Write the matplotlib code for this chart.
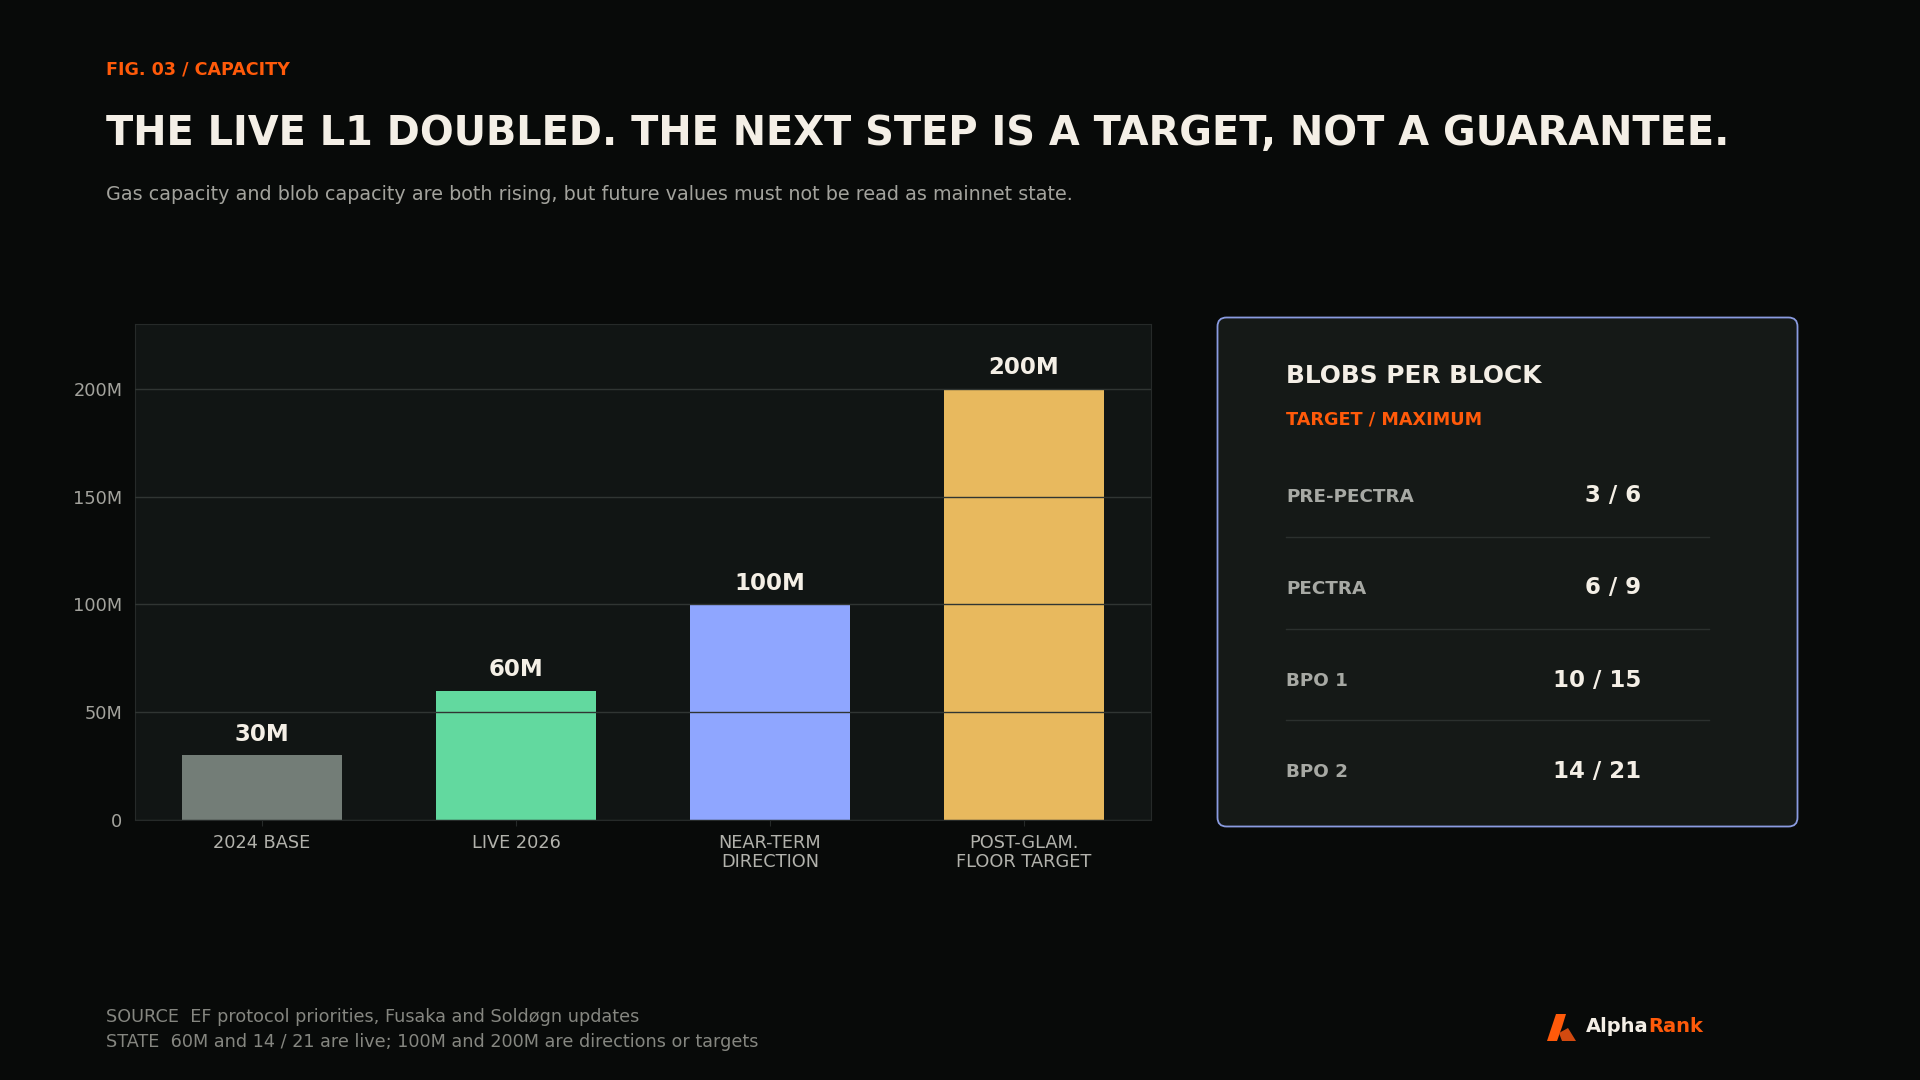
import matplotlib
matplotlib.use("Agg")
import matplotlib.pyplot as plt
from matplotlib.patches import FancyBboxPatch, Polygon
from matplotlib.ticker import FuncFormatter

# ---- data ----
categories = ["2024 BASE", "LIVE 2026", "NEAR-TERM\nDIRECTION", "POST-GLAM.\nFLOOR TARGET"]
gas_limit_m = [30, 60, 100, 200]
bar_colors = ["#737d77", "#62d99f", "#8fa6ff", "#e8b95e"]

blob_stages = ["PRE-PECTRA", "PECTRA", "BPO 1", "BPO 2"]
blob_target = [3, 6, 10, 14]
blob_max = [6, 9, 15, 21]

BG = "#080a09"
AX_BG = "#111514"
PANEL_BG = "#151917"
ORANGE = "#ff5a0a"
CREAM = "#f4efe6"
GRID = "#303533"

W, H = 1920, 1080


def fx(x):
    return x / W


def fy(y):
    return 1 - y / H


fig = plt.figure(figsize=(19.2, 10.8), dpi=100, facecolor=BG)

# header
fig.text(fx(106), fy(69), "FIG. 03 / CAPACITY", color=ORANGE, fontsize=12.6,
         fontweight="bold", va="center", ha="left")
fig.text(fx(106), fy(134), "THE LIVE L1 DOUBLED. THE NEXT STEP IS A TARGET, NOT A GUARANTEE.",
         color=CREAM, fontsize=28.75, fontweight="bold", va="center", ha="left")
fig.text(fx(106), fy(194),
         "Gas capacity and blob capacity are both rising, but future values must not be read as mainnet state.",
         color="#a3a39d", fontsize=13.8, va="center", ha="left")

# bar chart
ax = fig.add_axes([fx(135), fy(820), fx(1151) - fx(135), fy(324) - fy(820)])
ax.set_facecolor(AX_BG)
x = range(len(categories))
bars = ax.bar(x, gas_limit_m, width=0.63, color=bar_colors, zorder=1)
ax.set_xlim(-0.5, 3.5)
ax.set_ylim(0, 230)
ax.set_yticks([0, 50, 100, 150, 200])
ax.yaxis.set_major_formatter(FuncFormatter(lambda v, _: "0" if v == 0 else f"{int(v)}M"))
ax.set_xticks(list(x))
ax.set_xticklabels(categories, linespacing=1.1)
ax.grid(axis="y", color=GRID, lw=1.0, zorder=3)
ax.set_axisbelow(False)
for s in ax.spines.values():
    s.set_color("#262a29")
ax.tick_params(axis="y", length=0, pad=9, labelsize=12.8, labelcolor="#a3a39d")
ax.tick_params(axis="x", length=4, color="#262a29", pad=6, labelsize=12.8, labelcolor="#b2b2ac")
for b, v in zip(bars, gas_limit_m):
    ax.annotate(f"{v}M", (b.get_x() + b.get_width() / 2, v), xytext=(0, 7),
                textcoords="offset points", ha="center", va="bottom",
                color=CREAM, fontsize=16.5, fontweight="bold")

# blobs panel
px0, py0, px1, py1 = 1216, 316, 1799, 828
pax = fig.add_axes([fx(px0), fy(py1), fx(px1) - fx(px0), fy(py0) - fy(py1)])
pax.set_xlim(px0, px1)
pax.set_ylim(py1, py0)
pax.axis("off")
pax.add_patch(FancyBboxPatch((px0 + 1.5, py0 + 1.5), px1 - px0 - 3, py1 - py0 - 3,
                             boxstyle="round,pad=0,rounding_size=9",
                             facecolor=PANEL_BG, edgecolor="#8a9be0", lw=1.3))
pax.text(1286, 376, "BLOBS PER BLOCK", color=CREAM, fontsize=17.9, fontweight="bold",
         va="center", ha="left")
pax.text(1286, 419, "TARGET / MAXIMUM", color=ORANGE, fontsize=12.7, fontweight="bold",
         va="center", ha="left")
row_y = [497, 589, 681, 772]
for i, (name, t, m) in enumerate(zip(blob_stages, blob_target, blob_max)):
    y = row_y[i]
    pax.text(1286, y, name, color="#a7a9a4", fontsize=13.2, fontweight="bold",
             va="center", ha="left")
    pax.text(1641, y - 1, f"{t} / {m}", color=CREAM, fontsize=16.5, fontweight="bold",
             va="center", ha="right")
    if i < len(blob_stages) - 1:
        sep = (row_y[i] + row_y[i + 1]) / 2 - 6.5
        pax.plot([1286, 1709], [sep, sep], color="#2b302e", lw=1)

# footer
fig.text(fx(106), fy(1017), "SOURCE  EF protocol priorities, Fusaka and Soldøgn updates",
         color="#858680", fontsize=12.7, va="center", ha="left")
fig.text(fx(106), fy(1042), "STATE  60M and 14 / 21 are live; 100M and 200M are directions or targets",
         color="#858680", fontsize=12.7, va="center", ha="left")

# logo
lax = fig.add_axes([0, 0, 1, 1], zorder=5)
lax.set_xlim(0, W)
lax.set_ylim(H, 0)
lax.axis("off")
lax.add_patch(Polygon([(1547, 1041), (1556, 1014), (1566, 1014), (1562, 1027),
                       (1557, 1041)], closed=True, color=ORANGE, lw=0))
lax.add_patch(Polygon([(1559, 1033), (1568, 1028), (1576, 1041), (1562, 1041)],
                      closed=True, color="#d24a10", lw=0))
alpha_txt = lax.text(1586, 1027, "Alpha", color=CREAM, fontsize=14, fontweight="bold",
                     va="center", ha="left")
lax.annotate("Rank", xy=(1, 0.5), xycoords=alpha_txt, color=ORANGE, fontsize=14,
             fontweight="bold", va="center", ha="left")

fig.savefig("out.png", dpi=100, facecolor=BG)
